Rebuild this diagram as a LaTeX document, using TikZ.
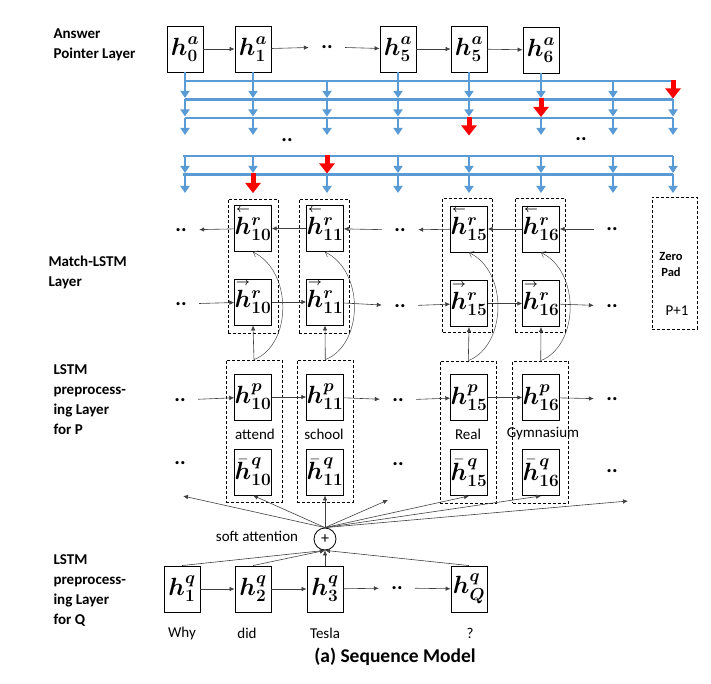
\documentclass[tikz,border=0pt]{standalone}
\usepackage{amsmath,amssymb}
\usepackage{fontspec}
\setmainfont{Carlito}
\usepackage{tikz}
\usetikzlibrary{arrows.meta}
\usetikzlibrary{calc}
\definecolor{ptrblue}{RGB}{91,155,213}
\newcommand{\hvec}[3]{$#1{\boldsymbol{h}}^{\boldsymbol{#2}}_{\boldsymbol{#3}}$}
\newcommand{\arrl}[1]{\smash{\overset{\boldsymbol{\scriptscriptstyle\leftarrow}}{#1}}\vphantom{#1}}
\newcommand{\arrr}[1]{\smash{\overset{\boldsymbol{\scriptscriptstyle\rightarrow}}{#1}}\vphantom{#1}}

\tikzset{
  cell/.style={draw, line width=0.9pt, minimum width=36, minimum height=46, inner sep=0, font=\fontsize{23}{23}\selectfont},
  grp/.style={draw, dashed, dash pattern=on 3pt off 2pt, line width=0.7pt, minimum width=50, minimum height=134, inner sep=0},
  pgrp/.style={grp, minimum width=56, minimum height=142},
  dots/.style={font=\bfseries\fontsize{21}{21}\selectfont, minimum width=36, inner sep=0},
  lbl/.style={font=\bfseries\fontsize{15}{20}\selectfont, align=left, anchor=west},
  word/.style={font=\fontsize{15}{15}\selectfont, inner sep=0},
  conn/.style={-{Latex[length=5pt,width=4.5pt]}, line width=0.6pt, black!75},
  back/.style={-{Straight Barb[length=4pt,width=7pt]}, line width=0.5pt, black!70},
  bl/.style={ptrblue, line width=2.5pt},
  blarr/.style={ptrblue, line width=2.5pt, -{Triangle[length=7pt,width=9pt]}},
  redarr/.style={red, line width=5pt, -{Triangle[length=10pt,width=15pt]}},
}

\begin{document}
\begin{tikzpicture}[x=1pt, y=-1pt]
  \useasboundingbox (0,0) rectangle (711,684);

  \node[lbl] (lA) at (50,45) {Answer\\Pointer Layer};
  \node[lbl] (lM) at (45,272) {Match-LSTM\\Layer};
  \node[lbl] (lP) at (50,400) {LSTM\\preprocess-\\ing Layer\\for P};
  \node[lbl] (lQ) at (50,591) {LSTM\\preprocess-\\ing Layer\\for Q};

  % answer pointer
  \node[cell] (a0) at (185,49) {\hvec{}{a}{0}};
  \node[cell] (a1) at (253,49) {\hvec{}{a}{1}};
  \node[dots] (da) at (327,47) {..};
  \node[cell] (a5) at (398,49) {\hvec{}{a}{5}};
  \node[cell] (a5b) at (469,49) {\hvec{}{a}{5}};
  \node[cell] (a6) at (541,50) {\hvec{}{a}{6}};
  \draw[conn] (a0) -- (a1);
  \draw[conn] (a1) -- (da);
  \draw[conn] (da) -- (a5);
  \draw[conn] (a5) -- (a5b);
  \draw[conn] (a5b) -- (a6);

  \foreach \y in {81,99.5,118} \draw[bl] (185,\y) -- (673,\y);
  \foreach \y in {156,174.5} \draw[bl] (183,\y) -- (673,\y);
  \foreach \n in {a0,a1,a5,a5b,a6} \draw[bl] (\n.south) -- (\n.south |- 0,81);
  \foreach \x in {185,253,327,398,469,541,613,673}
    \foreach \y/\z in {81/98,99.5/116.5,118/135,156/173,174.5/193}
      \draw[blarr] (\x,\y) -- (\x,\z);
  \draw[redarr] (673,80) -- (673,98.5);
  \draw[redarr] (541,98.5) -- (541,117);
  \draw[redarr] (469,117) -- (469,135.5);
  \draw[redarr] (327,155) -- (327,173.5);
  \draw[redarr] (253,173.5) -- (253,193);
  \node[dots] (dg1) at (287,140) {..};
  \node[dots] (dg2) at (581,139) {..};

  % match-lstm
  \node[grp] (gm10) at (253,266) {};
  \node[grp] (gm11) at (324,266) {};
  \node[grp] (gm15) at (467.5,265) {};
  \node[grp] (gm16) at (540,265) {};
  \node[grp, minimum width=45, minimum height=132] (zp) at (674.5,263) {};
  \node[font=\bfseries\fontsize{12.5}{16}\selectfont, align=center] (zpt) at (671,264) {Zero\\Pad};
  \node[word] (zpn) at (677,311) {P+1};

  \node[cell] (b10) at (253,228.5) {\hvec{\arrl}{r}{10}};
  \node[cell] (b11) at (325,228.5) {\hvec{\arrl}{r}{11}};
  \node[cell] (b15) at (469,229) {\hvec{\arrl}{r}{15}};
  \node[cell] (b16) at (541,229) {\hvec{\arrl}{r}{16}};
  \node[cell] (f10) at (253,302) {\hvec{\arrr}{r}{10}};
  \node[cell] (f11) at (325,302) {\hvec{\arrr}{r}{11}};
  \node[cell] (f15) at (469,303.5) {\hvec{\arrr}{r}{15}};
  \node[cell] (f16) at (541,303.5) {\hvec{\arrr}{r}{16}};
  \node[dots] (db0) at (181,230) {..};
  \node[dots] (db1) at (400,230) {..};
  \node[dots] (db2) at (612,229) {..};
  \node[dots] (df0) at (181,304) {..};
  \node[dots] (df1) at (400,306) {..};
  \node[dots] (df2) at (612,306) {..};
  \draw[conn] (db2) -- (b16);
  \draw[conn] (b16) -- (b15);
  \draw[conn] (b15) -- (db1);
  \draw[conn] (db1) -- (b11);
  \draw[conn] (b11) -- (b10);
  \draw[conn] (b10) -- (db0);
  \draw[conn] (df0) -- (f10);
  \draw[conn] (f10) -- (f11);
  \draw[conn] (f11) -- (df1);
  \draw[conn] (df1) -- (f15);
  \draw[conn] (f15) -- (f16);
  \draw[conn] (f16) -- (df2);

  % preprocessing for P
  \node[pgrp] (gp10) at (254,431) {};
  \node[pgrp] (gp11) at (325.3,431) {};
  \node[pgrp] (gp15) at (468.3,432) {};
  \node[pgrp] (gp16) at (540.7,432) {};
  \node[cell] (p10) at (253,397) {\hvec{}{p}{10}};
  \node[cell] (p11) at (325,397) {\hvec{}{p}{11}};
  \node[cell] (p15) at (469,397.5) {\hvec{}{p}{15}};
  \node[cell] (p16) at (541,397.5) {\hvec{}{p}{16}};
  \node[word] (w10) at (255,434) {attend};
  \node[word] (w11) at (324,434) {school};
  \node[word] (w15) at (468,434) {Real};
  \node[word] (w16) at (543,434) {Gymnasium};
  \node[cell] (c10) at (253,472) {\hvec{\bar}{q}{10}};
  \node[cell] (c11) at (325,472) {\hvec{\bar}{q}{11}};
  \node[cell] (c15) at (469,472.5) {\hvec{\bar}{q}{15}};
  \node[cell] (c16) at (541,472.5) {\hvec{\bar}{q}{16}};
  \node[dots] (dp0) at (180,400) {..};
  \node[dots] (dp1) at (398,400) {..};
  \node[dots] (dp2) at (612,399) {..};
  \node[dots] (dc0) at (180,463) {..};
  \node[dots] (dc1) at (398,464) {..};
  \node[dots] (dc2) at (612,471) {..};
  \draw[conn] (dp0) -- (p10);
  \draw[conn] (p10) -- (p11);
  \draw[conn] (p11) -- (dp1);
  \draw[conn] (dp1) -- (p15);
  \draw[conn] (p15) -- (p16);
  \draw[conn] (p16) -- (dp2);

  \foreach \g/\f/\b in {gp10/f10/b10, gp11/f11/b11, gp15/f15/b15, gp16/f16/b16}{
    \draw[conn] (\g.north) -- (\f.south);
    \draw[back] (\g.north) .. controls ($(\g.north)+(38,-15)$) and ($(\b.south)+(40,20)$) .. (\b.south);
  }

  % soft attention
  \node[draw, circle, minimum size=22, inner sep=0, line width=0.8pt, font=\fontsize{16}{16}\selectfont] (att) at (325,539) {+};
  \node[word] (attl) at (257,536) {soft attention};
  \coordinate (e1) at (183,496);
  \coordinate (e2) at (388,500);
  \coordinate (e3) at (628,501);
  \foreach \t in {e1,c10.south,c11.south,e2,c15.south,c16.south,e3}
    \draw[conn] (att.north) -- (\t);

  % preprocessing for Q
  \node[cell] (q1) at (182,589) {\hvec{}{q}{1}};
  \node[cell] (q2) at (253,589) {\hvec{}{q}{2}};
  \node[cell] (q3) at (325,589) {\hvec{}{q}{3}};
  \node[dots] (dq) at (397,588) {..};
  \node[cell] (qQ) at (469,589) {\hvec{}{q}{Q}};
  \draw[conn] (q1) -- (q2);
  \draw[conn] (q2) -- (q3);
  \draw[conn] (q3) -- (dq);
  \draw[conn] (dq) -- (qQ);
  \foreach \n in {q1,q2,q3,qQ}
    \draw[conn] (\n.north) -- (att.south);
  \node[word] (wq1) at (182,633) {Why};
  \node[word] (wq2) at (247,633) {did};
  \node[word] (wq3) at (325,633) {Tesla};
  \node[word] (wq4) at (470,633) {?};

  \node[font=\bfseries\fontsize{19.5}{19.5}\selectfont] (cap) at (395,657) {(a) Sequence Model};
\end{tikzpicture}
\end{document}
